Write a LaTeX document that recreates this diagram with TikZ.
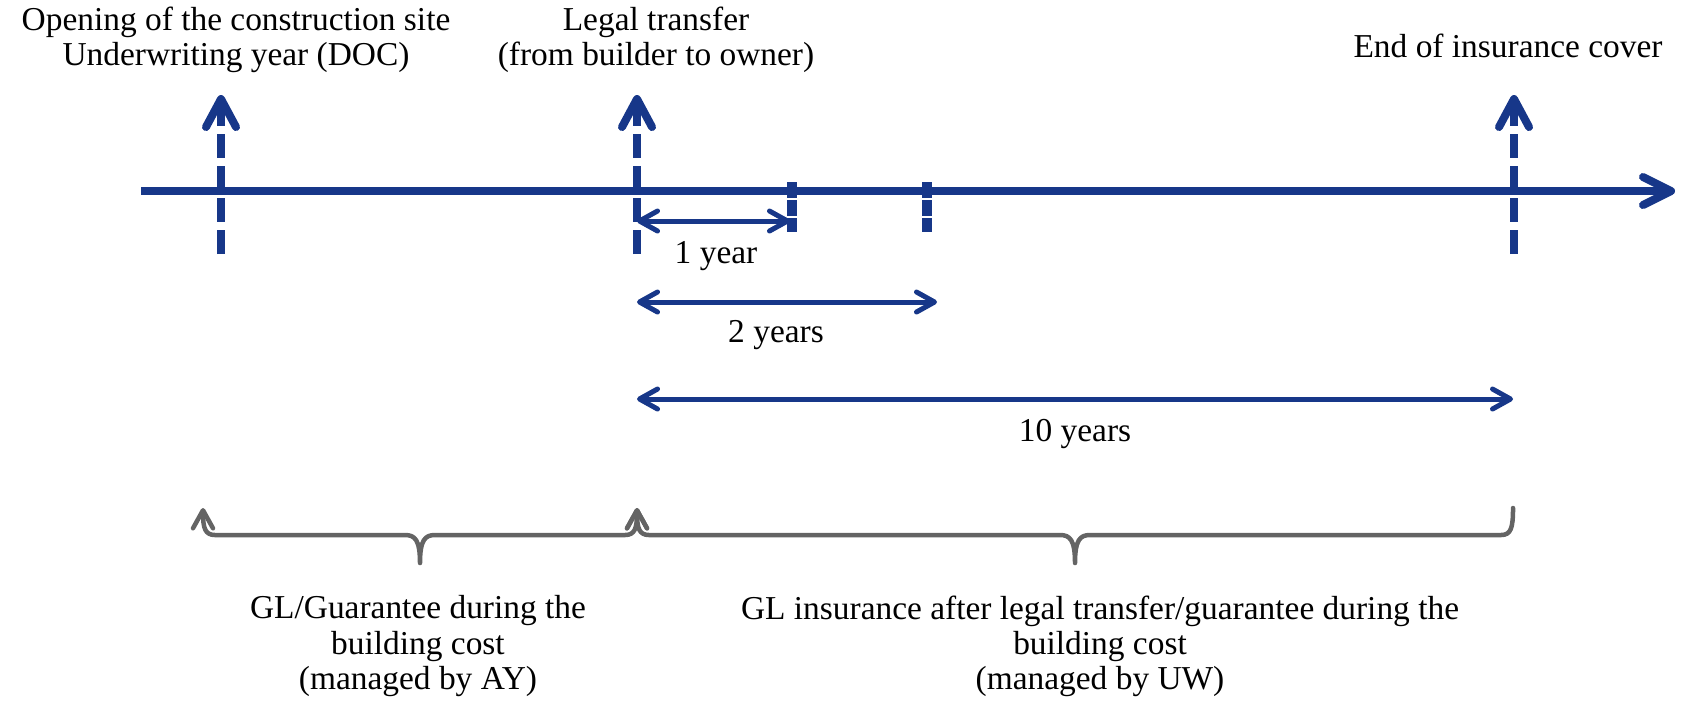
\documentclass[tikz,border=0pt]{standalone}
\usepackage{fontspec}
\setmainfont{Liberation Serif}
\usetikzlibrary{arrows.meta,calc}

\definecolor{lineblue}{RGB}{23,55,137}
\definecolor{bracegray}{RGB}{100,100,100}

\tikzset{
  timeline/.style={lineblue, line width=0.08cm, -{Straight Barb[round,length=0.28cm,width=0.28cm]}},
  milestone/.style={lineblue, line width=0.08cm, dash pattern=on 0.24cm off 0.08cm,
    -{Straight Barb[round,length=0.28cm,width=0.3cm]}},
  yeartick/.style={lineblue, line width=0.1cm, dash pattern=on 0.16cm off 0.02cm},
  duration/.style={lineblue, line width=0.05cm,
    {Straight Barb[round,length=0.18cm,width=0.2cm]}-{Straight Barb[round,length=0.18cm,width=0.2cm]}},
  bracket/.style={bracegray, line width=0.045cm, line cap=round, line join=round},
  bracetip/.tip={Straight Barb[round,length=0.18cm,width=0.2cm]},
  txt/.style={font=\fontsize{9.5pt}{10pt}\selectfont, align=center, inner sep=0pt},
}

\begin{document}
\begin{tikzpicture}[x=0.01cm,y=-0.01cm]
\useasboundingbox (0,0) rectangle (1683,708);

% points on the time axis
\coordinate (t0) at (141,191);
\coordinate (t1) at (1675,191);
\coordinate (doc) at (221,191);
\coordinate (transfer) at (637,191);
\coordinate (cover) at (1514,191);
\coordinate (yr1) at (792,191);
\coordinate (yr2) at (927,191);

\draw[timeline] (t0) -- (t1); % time axis

\draw[milestone] ($(doc)+(0,63)$) -- ($(doc)+(0,-96)$); % opening of the site
\draw[milestone] ($(transfer)+(0,63)$) -- ($(transfer)+(0,-96)$); % legal transfer
\draw[milestone] ($(cover)+(0,63)$) -- ($(cover)+(0,-96)$); % end of cover

\draw[yeartick] ($(yr1)+(0,-9)$) -- ($(yr1)+(0,41)$); % after 1 year
\draw[yeartick] ($(yr2)+(0,-9)$) -- ($(yr2)+(0,41)$); % after 2 years

\draw[duration] ($(transfer)+(0,30)$) -- ($(yr1)+(-2,30)$); % 1 year
\draw[duration] ($(transfer)+(0,111)$) -- ($(yr2)+(10,111)$); % 2 years
\draw[duration] ($(transfer)+(0,208)$) -- ($(cover)+(-1,208)$); % 10 years

\node[txt] (opening) at (236,40) {Opening of the construction site\\Underwriting year (DOC)};
\node[txt] (legal) at (656,40) {Legal transfer\\(from builder to owner)};
\node[txt, anchor=base] (endcover) at (1508,57) {End of insurance cover};
\node[txt] (oneyear) at (716,256) {1 year};
\node[txt] (twoyears) at (776,335) {2 years};
\node[txt] (tenyears) at (1075,434) {10 years};

% braces under the axis
\coordinate (ayL) at (203,508);
\coordinate (ayR) at (637,508);
\coordinate (uwR) at (1513,508);
\draw[bracket, bracetip-bracetip] (ayL) .. controls (203,528) and (205,535) .. (215,535)
  -- (405,535) .. controls (415,535) and (420,540) .. (420,563)
  .. controls (420,540) and (425,535) .. (435,535)
  -- (625,535) .. controls (635,535) and (637,528) .. (ayR);
\draw[bracket, bracetip-] (ayR) .. controls (637,528) and (639,535) .. (649,535)
  -- (1060,535) .. controls (1070,535) and (1075,540) .. (1075,563)
  .. controls (1075,540) and (1080,535) .. (1090,535)
  -- (1501,535) .. controls (1511,535) and (1513,528) .. (uwR);

\node[txt] (aylabel) at (418,646) {GL/Guarantee during the\\building cost\\(managed by AY)};
\node[txt] (uwlabel) at (1100,646) {GL insurance after legal transfer/guarantee during the\\building cost\\(managed by UW)};

\end{tikzpicture}
\end{document}
